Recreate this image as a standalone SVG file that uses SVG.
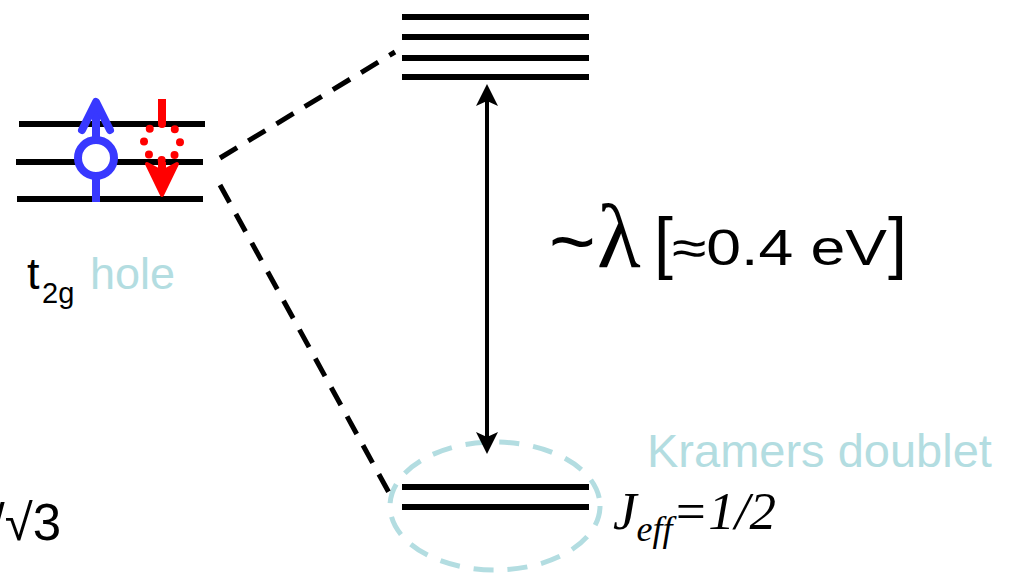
<svg xmlns="http://www.w3.org/2000/svg" width="1015" height="573" viewBox="0 0 1015 573">
<style>
.lvl{stroke:#000;stroke-width:6;fill:none}
.dash{stroke:#000;stroke-width:5;stroke-dasharray:20 13;fill:none}
.sans{font-family:"Liberation Sans",Arial,sans-serif}
.serif{font-family:"Liberation Serif","Times New Roman",serif}
.lb{fill:#B3DDE1}
.head{fill:#000}
</style>
<rect width="1015" height="573" fill="#fff"/>
<g id="t2g-levels">
<line class="lvl" x1="19" y1="124" x2="205" y2="124"/>
<line class="lvl" x1="16" y1="162" x2="203" y2="162"/>
<line class="lvl" x1="17" y1="199" x2="203" y2="199"/>
</g>
<g id="spin-up" stroke="#3838FF" fill="none" stroke-width="8">
<line x1="96" y1="202" x2="96" y2="176"/>
<circle cx="96" cy="158" r="18" fill="#fff"/>
<line x1="96" y1="140" x2="96" y2="104"/>
<polyline points="82,130 96,102 110,130" stroke-linecap="round" stroke-linejoin="round"/>
</g>
<g id="spin-down" stroke="#FF0000" fill="none">
<line x1="162" y1="99" x2="162" y2="124" stroke-width="8"/>
<circle cx="162" cy="142" r="18" stroke-width="8" stroke-linecap="round" stroke-dasharray="0 14.137" transform="rotate(-90 162 142)"/>
<line x1="162" y1="162" x2="162" y2="190" stroke-width="8"/>
<polygon points="147,164 162,195 177,164 162,172" fill="#FF0000" stroke="#FF0000" stroke-width="4" stroke-linejoin="round"/>
</g>
<g id="upper-levels">
<line class="lvl" x1="402" y1="17" x2="589" y2="17"/>
<line class="lvl" x1="402" y1="37" x2="589" y2="37"/>
<line class="lvl" x1="402" y1="58" x2="589" y2="58"/>
<line class="lvl" x1="402" y1="77" x2="589" y2="77"/>
</g>
<g id="doublet">
<ellipse cx="495" cy="506" rx="105" ry="64" fill="none" stroke="#B3DDE1" stroke-width="5" stroke-dasharray="20 14"/>
<line class="lvl" x1="402" y1="487" x2="589" y2="487"/>
<line class="lvl" x1="402" y1="507" x2="589" y2="507"/>
</g>
<g id="connectors">
<line class="dash" x1="220" y1="158" x2="395" y2="52"/>
<line class="dash" x1="220" y1="185" x2="393" y2="500"/>
<line x1="487" y1="98" x2="487" y2="440" stroke="#000" stroke-width="4"/>
<polygon class="head" points="487,84 498,106 487,101 476,106"/>
<polygon class="head" points="487,454 498,432 487,437 476,432"/>
</g>
<g id="labels">
<text class="sans" x="27" y="289" font-size="45">t</text>
<text class="sans" x="42" y="303" font-size="29">2g</text>
<text class="sans lb" x="90" y="289" font-size="45">hole</text>
<text class="sans" x="549" y="269" font-size="80">~</text>
<text class="serif" x="597" y="267" font-size="90">λ</text>
<text class="sans" x="654" y="266" font-size="68">[</text>
<text class="sans" x="672" y="265" font-size="50" textLength="215" lengthAdjust="spacingAndGlyphs">≈0.4 eV</text>
<text class="sans" x="888" y="266" font-size="68">]</text>
<text class="sans lb" x="647" y="467" font-size="47">Kramers doublet</text>
<text class="serif" x="613" y="529" font-size="53" font-style="italic">J<tspan font-size="36" dy="12">eff</tspan><tspan dy="-12">=1/2</tspan></text>
<text class="sans" x="61" y="540" font-size="51" text-anchor="end">/√3</text>
</g>
</svg>
